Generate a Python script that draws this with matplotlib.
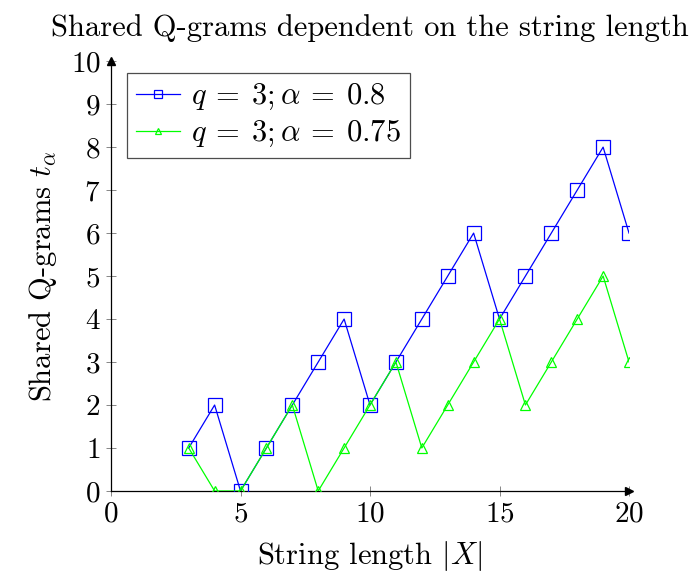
import numpy as np
import matplotlib
matplotlib.use('Agg')
from matplotlib import pyplot as plt

plt.rcParams['font.family'] = 'serif'
plt.rcParams['font.serif'] = ['cmr10', 'DejaVu Serif']
plt.rcParams['mathtext.fontset'] = 'cm'
plt.rcParams['axes.formatter.use_mathtext'] = True

# string lengths and shared q-gram counts
lengths = [3, 4, 5, 6, 7, 8, 9, 10, 11, 12, 13, 14, 15, 16, 17, 18, 19, 20]
t_alpha_08 = [1, 2, 0, 1, 2, 3, 4, 2, 3, 4, 5, 6, 4, 5, 6, 7, 8, 6]
t_alpha_075 = [1, 0, 0, 1, 2, 0, 1, 2, 3, 1, 2, 3, 4, 2, 3, 4, 5, 3]
xticks = [0, 5, 10, 15, 20]
yticks = list(range(0, 11))

fig = plt.figure(figsize=(7, 5.88), dpi=100)
ax = fig.add_axes([0.1586, 0.165, 0.74, 0.731])

ax.plot(lengths, t_alpha_08, color=(0, 0, 1), lw=0.9, marker='s', ms=10,
        mfc='none', mec=(0, 0, 1), mew=0.9, label=r'$q\:=\:3;\alpha\:=\:0.8$', zorder=3)
ax.plot(lengths, t_alpha_075, color=(0, 1, 0), lw=0.9, marker='^', ms=7.5,
        mfc='none', mec=(0, 1, 0), mew=0.9, label=r'$q\:=\:3;\alpha\:=\:0.75$', zorder=4)

ax.set_xlim(0, 20)
ax.set_ylim(0, 10)
for s in ['top', 'right']:
    ax.spines[s].set_visible(False)
for s in ['left', 'bottom']:
    ax.spines[s].set_linewidth(0.9)
ax.plot(1, 0, '>k', transform=ax.transAxes, clip_on=False, ms=6)
ax.plot(0, 1, '^k', transform=ax.transAxes, clip_on=False, ms=6)

ax.set_xticks(xticks)
ax.set_yticks(yticks)
ax.tick_params(direction='inout', length=7, width=0.6, color='0.45',
               labelsize=21, pad=4)

ax.set_xlabel(r'String length $|X|$', fontsize=22, labelpad=8)
ax.set_ylabel(r'Shared Q-grams $t_\alpha$', fontsize=22, labelpad=8)
ax.set_title('Shared Q-grams dependent on the string length', fontsize=22, pad=18)

leg = ax.legend(loc='upper left', bbox_to_anchor=(0.03, 0.972), fontsize=22,
                fancybox=False, framealpha=1, edgecolor='0.3',
                handlelength=1.45, handletextpad=0.35, borderpad=0.3,
                labelspacing=0.22, borderaxespad=0, markerscale=0.6)
leg.get_frame().set_linewidth(0.9)

fig.savefig('out.png', dpi=100)
